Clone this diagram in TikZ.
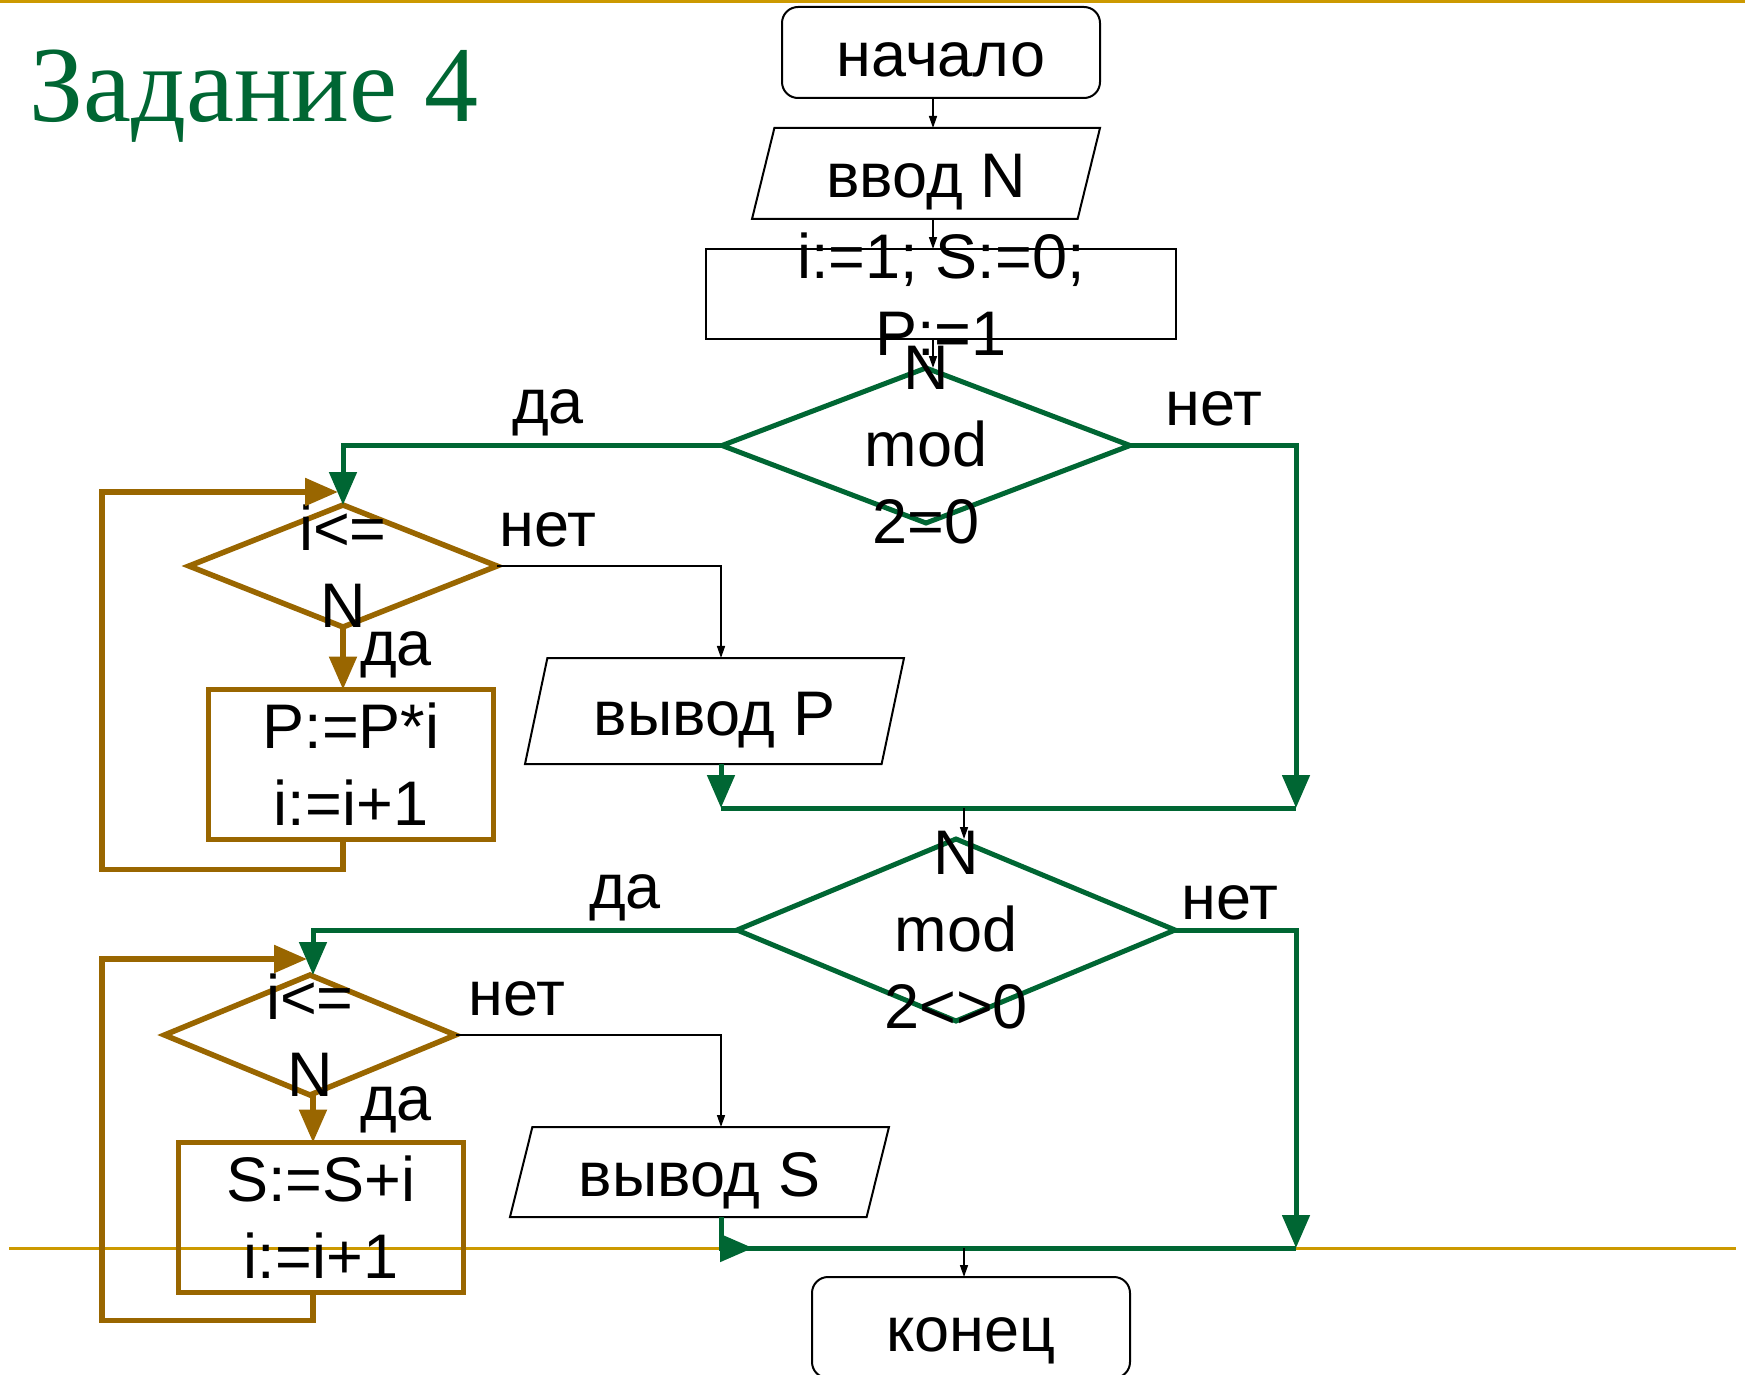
\documentclass[tikz,border=0pt]{standalone}
\usepackage{fontspec}
\setmainfont{Liberation Sans}
\newfontfamily\titlefont{Liberation Serif}
\usetikzlibrary{shapes.geometric}
\usetikzlibrary{arrows.meta}
\usetikzlibrary{calc}
\definecolor{grn}{RGB}{0,102,51}
\definecolor{brn}{RGB}{153,102,0}
\definecolor{gld}{RGB}{204,153,0}
\tikzset{
  txt/.style={font=\fontsize{63}{77}\selectfont,align=center,inner sep=0pt},
  term/.style={draw,line width=2pt,rounded corners=16pt,inner sep=0pt,outer sep=0pt,
    font=\fontsize{63}{77}\selectfont,text height=48pt,text depth=0pt},
  io/.style={draw,line width=2pt,trapezium,trapezium left angle=65,
    trapezium right angle=115,trapezium stretches body,inner sep=0pt,outer sep=0pt,
    font=\fontsize{63}{77}\selectfont,text height=48pt,text depth=0pt},
  proc/.style={draw,line width=1.5pt,inner sep=0pt,outer sep=0pt},
  act/.style={txt,draw=brn,line width=5.5pt,outer sep=0pt},
  cond/.style={diamond,draw=grn,line width=5pt,inner sep=0pt,outer sep=0pt},
  loopcond/.style={diamond,draw=brn,line width=5.5pt,inner sep=0pt,outer sep=0pt},
  tarrow/.style={line width=1.5pt,-{Triangle[length=12pt,width=8pt]}},
  garrow/.style={grn,line width=5pt,-{Triangle[length=33pt,width=27pt]}},
  barrow/.style={brn,line width=5.5pt,-{Triangle[length=33pt,width=27pt]}},
  gline/.style={grn,line width=5pt},
  rule/.style={gld,line width=3pt}
}
\begin{document}
\begin{tikzpicture}[x=1pt,y=-1pt]
\useasboundingbox (0,0) rectangle (1745,1375);
\draw [rule] (0,1.5) -- (1745,1.5);
\draw [rule] (9,1248) -- (1736,1248);
\node [anchor=base west,inner sep=0pt,text=grn,
  font=\titlefont\fontsize{108}{112}\selectfont] (title) at (29,122) {Задание 4};

\coordinate (spine) at (933,0);
\coordinate (outcol) at (721,0);
\coordinate (midcol) at (964,0);
\coordinate (join1l) at (721,808);
\coordinate (join1r) at (1296,808);
\coordinate (join2l) at (721,1248);
\coordinate (join2a) at (753,1248);
\coordinate (join2r) at (1296,1248);
\coordinate (loop1) at (102,492);
\coordinate (loop2) at (102,959);

% main column
\node [term,minimum width=318pt,minimum height=91pt] (start) at (941,52.5) {начало};
\node [io,minimum width=348pt,minimum height=91pt] (inp) at (926,173.5) {ввод N};
\node [proc,minimum width=470pt,minimum height=90pt,
  label={[txt]center:{i:=1; S:=0;\\P:=1}}] (init) at (941,294) {};
\node [cond,minimum width=408pt,minimum height=155pt,
  label={[txt]center:{N\\mod\\2=0}}] (c1) at (926,445.5) {};
\node [cond,minimum width=438pt,minimum height=182pt,
  label={[txt]center:{N\\mod\\2<>0}}] (c2) at (956,930) {};
\node [term,minimum width=318pt,minimum height=101pt] (stop) at (971,1327.5) {конец};

% product loop
\node [loopcond,minimum width=308pt,minimum height=122pt,
  label={[txt]center:{i<=\\N}}] (d1) at (343,566) {};
\node [act,minimum width=285pt,minimum height=150pt] (mulP) at (351,764.5) {P:=P*i\\i:=i+1};
\node [io,minimum width=379pt,minimum height=106pt] (outP) at (714.5,711) {вывод P};

% sum loop
\node [loopcond,minimum width=291pt,minimum height=120pt,
  label={[txt]center:{i<=\\N}}] (d2) at (310,1035) {};
\node [act,minimum width=285pt,minimum height=150pt] (sumS) at (321,1217.5) {S:=S+i\\i:=i+1};
\node [io,minimum width=379pt,minimum height=90pt] (outS) at (699.5,1172) {вывод S};

\draw [tarrow] (start.south -| spine) -- (inp.north -| spine);
\draw [tarrow] (inp.south -| spine) -- (init.north -| spine);
\draw [tarrow] (init.south -| spine) -- (c1.north -| spine);

\draw [garrow] (c1.west) -| (d1.north);
\draw [garrow] (c1.east) -| (join1r);
\draw [gline] (join1l) -- (join1r);
\draw [garrow] (outP.south -| outcol) -- (join1l);
\draw [tarrow] (d1.east) -| (outP.north -| outcol);
\draw [barrow] (d1.south) -- (d1.south |- mulP.north);
\draw [barrow] (d1.south |- mulP.south) -- ++(0,30) -| (loop1)
  -- ($(d1.north)+(-5,-13)$);
\draw [tarrow] (join1l -| midcol) -- (c2.north -| midcol);

\draw [garrow] (c2.west) -| ($(d2.north)+(3,0)$);
\draw [garrow] (c2.east) -| (join2r);
\draw [gline] (join2l) -- (join2r);
\draw [garrow] (outS.south -| outcol) |- (join2a);
\draw [tarrow] (d2.east) -| (outS.north -| outcol);
\draw [barrow] ($(d2.south)+(3,0)$) -- ($(d2.south |- sumS.north)+(3,0)$);
\draw [barrow] ($(d2.south |- sumS.south)+(3,0)$) -- ++(0,28) -| (loop2)
  -- ($(d2.north)+(-3,-16)$);
\draw [tarrow] (join2l -| midcol) -- (stop.north -| midcol);

\node [txt,anchor=base] (yes1) at (548,423) {да};
\node [txt,anchor=base] (no1) at (1214,425) {нет};
\node [txt,anchor=base] (no1i) at (548,546) {нет};
\node [txt,anchor=base] (yes1i) at (396,665) {да};
\node [txt,anchor=base] (yes2) at (625,908) {да};
\node [txt,anchor=base] (no2) at (1230,919) {нет};
\node [txt,anchor=base] (no2i) at (517,1015) {нет};
\node [txt,anchor=base] (yes2i) at (396,1120) {да};
\end{tikzpicture}
\end{document}
